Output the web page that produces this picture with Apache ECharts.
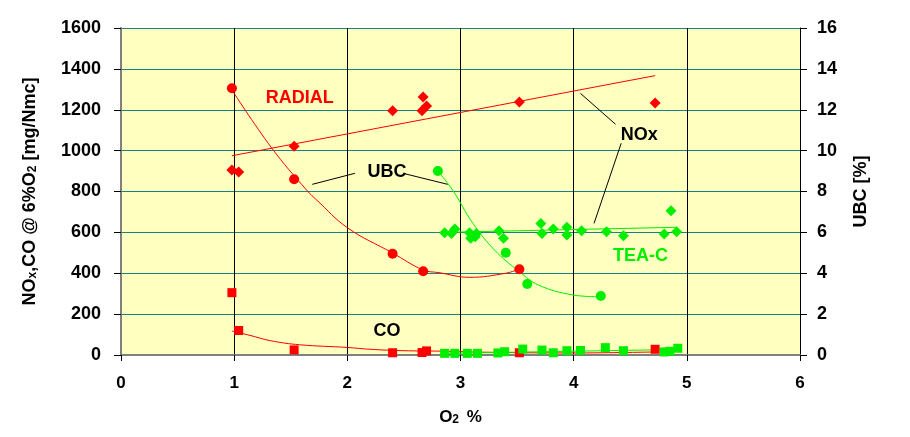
<!DOCTYPE html>
<html>
<head>
<meta charset="utf-8">
<script src="https://cdn.jsdelivr.net/npm/echarts@6/dist/echarts.min.js"></script>
<style>html,body{margin:0;padding:0;background:#fff}#c{width:910px;height:437px}</style>
</head>
<body>
<div id="c"></div>
<script>
// ---- data (x = O2 %) ----
const xTicks = [0, 1, 2, 3, 4, 5, 6];
const leftTicks = [0, 200, 400, 600, 800, 1000, 1200, 1400, 1600];
const rightTicks = [0, 2, 4, 6, 8, 10, 12, 14, 16];

// RADIAL burner
const radialNOx = [[0.98,905],[1.04,895],[1.53,1022],[2.40,1195],[2.66,1195],[2.67,1262],[2.70,1218],[3.52,1238],[4.72,1233]];
const radialNOxTrend = [[0.98,975],[4.72,1367]];
const radialUBC = [[0.98,13.05],[1.53,8.6],[2.40,4.95],[2.67,4.1],[3.52,4.2]];
const radialUBCTrend = [[0.98,12.97],[1.33,10.14],[1.64,8.07],[1.73,7.58],[2.00,6.23],[2.40,4.99],[2.67,4.16],[2.81,4.03],[3.08,3.80],[3.40,4.0],[3.52,4.21]];
const radialCO = [[0.98,305],[1.04,120],[1.53,25],[2.40,11],[2.66,12],[2.70,20],[3.52,11],[4.72,28]];
const radialCOTrend = [[0.98,117],[1.14,96],[1.32,70],[1.58,50],[2.00,37],[2.20,28],[2.50,21],[2.80,19],[3.30,13],[4.00,10],[4.72,15]];

// TEA-C burner
const teaNOx = [[2.86,598],[2.92,595],[2.95,616],[3.08,598],[3.09,571],[3.13,579],[3.14,595],[3.34,608],[3.38,571],[3.71,644],[3.72,595],[3.82,616],[3.94,625],[3.94,587],[4.07,608],[4.29,603],[4.44,584],[4.80,592],[4.86,706],[4.91,603]];
const teaNOxTrend = [[2.86,600],[4.91,625]];
const teaUBC = [[2.80,9.0],[3.40,5.0],[3.59,3.47],[4.24,2.89]];
const teaUBCTrend = [[2.80,9.0],[2.93,8.07],[3.11,6.44],[3.30,5.14],[3.52,4.08],[3.69,3.42],[3.99,2.94],[4.22,2.85]];
const teaCO = [[2.86,8],[2.95,8],[3.06,8],[3.15,8],[3.33,10],[3.39,16],[3.55,29],[3.72,24],[3.82,11],[3.94,21],[4.06,22],[4.28,36],[4.44,21],[4.80,15],[4.85,18],[4.92,33]];
const teaCOTrend = [[2.86,8],[4.92,27]];

// annotations (text, position in O2 % / left-axis units)
const blackNotes = [{name:'UBC', value:[2.35,897]}, {name:'NOx', value:[4.58,1076]}, {name:'CO', value:[2.35,117]}];
const redNotes = [{name:'RADIAL', value:[1.58,1257]}];
const greenNotes = [{name:'TEA-C', value:[4.59,486]}];
const leaders = [
  [[1.69,835],[2.067,889]],
  [[2.507,887],[2.887,835]],
  [[4.06,1280],[4.37,1129]],
  [[4.42,1036],[4.18,644]]
];

const RED = '#ff0000', GREEN = '#00ee00';
const FONT = "'Liberation Sans', Arial, sans-serif";

const series = [];
function trend(data, color, yi, smooth) {
  series.push({type:'line', data, yAxisIndex: yi, smooth: smooth ? 0.4 : false, showSymbol:false, symbol:'none',
    lineStyle:{color, width:1}, silent:true, z:3});
}
function pts(data, color, symbol, size, yi) {
  series.push({type:'scatter', data, yAxisIndex: yi, symbol, symbolSize:size, itemStyle:{color, opacity:1}, z:4});
}
function notes(data, color) {
  series.push({type:'scatter', data, yAxisIndex:0, symbolSize:0, z:6, itemStyle:{color, opacity:1},
    label:{show:true, position:'inside', formatter:p=>p.name, color, opacity:1, textBorderWidth:0, textBorderColor:'transparent',
      fontFamily:FONT, fontWeight:'bold', fontSize:18}});
}
trend(radialNOxTrend, RED, 0, false);
trend(radialUBCTrend, RED, 1, true);
trend(radialCOTrend, RED, 0, true);
trend(teaNOxTrend, GREEN, 0, false);
trend(teaUBCTrend, GREEN, 1, true);
trend(teaCOTrend, GREEN, 0, false);
pts(radialNOx, RED, 'diamond', 11, 0);
pts(radialUBC, RED, 'circle', 10, 1);
pts(radialCO, RED, 'rect', 9, 0);
pts(teaNOx, GREEN, 'diamond', 11, 0);
pts(teaUBC, GREEN, 'circle', 10, 1);
pts(teaCO, GREEN, 'rect', 9, 0);
leaders.forEach(l => series.push({type:'line', data:l, yAxisIndex:0, symbol:'none', lineStyle:{color:'#000', width:1}, z:5, silent:true}));
notes(blackNotes, '#000');
notes(redNotes, RED);
notes(greenNotes, GREEN);

const chart = echarts.init(document.getElementById('c'), null, {renderer:'canvas'});
chart.setOption({
  animation:false,
  backgroundColor:'#ffffff',
  textStyle:{fontFamily:FONT},
  grid:{left:121, right:110, top:28, bottom:82, show:true, backgroundColor:'#ffffc0', borderWidth:0},
  xAxis:{type:'value', min:xTicks[0], max:xTicks[xTicks.length-1], interval:1,
    axisLine:{show:true, onZero:false, lineStyle:{color:'#808080', width:2}},
    axisTick:{show:true, length:6, lineStyle:{color:'#000'}},
    splitLine:{show:true, lineStyle:{color:'#000', width:1}},
    axisLabel:{color:'#000', fontWeight:'bold', fontSize:17, fontFamily:FONT, margin:20, formatter:v=>String(v)},
    name:'{a|O}{b|2}{a| %}', nameLocation:'middle', nameGap:54,
    nameTextStyle:{rich:{a:{fontSize:17, fontWeight:'bold', color:'#000', fontFamily:FONT}, b:{fontSize:12, fontWeight:'bold', color:'#000', verticalAlign:'bottom', fontFamily:FONT, padding:[0,3,0,0]}}}
  },
  yAxis:[
    {type:'value', min:leftTicks[0], max:leftTicks[leftTicks.length-1], interval:200, position:'left',
      axisLine:{show:true, lineStyle:{color:'#808080', width:2}},
      axisTick:{show:true, length:7, lineStyle:{color:'#000'}},
      splitLine:{show:true, lineStyle:{color:'#1a8080', width:1}},
      axisLabel:{color:'#000', fontWeight:'bold', fontSize:18, fontFamily:FONT, margin:20, formatter:v=>String(v)},
      name:'{a|NO}{b|x}{a|,CO @ 6%O}{b|2}{a| [mg/Nmc]}', nameLocation:'middle', nameGap:82, nameRotate:90,
      nameTextStyle:{rich:{a:{fontSize:18, fontWeight:'bold', color:'#000', fontFamily:FONT}, b:{fontSize:12, fontWeight:'bold', color:'#000', verticalAlign:'bottom', fontFamily:FONT}}}
    },
    {type:'value', min:rightTicks[0], max:rightTicks[rightTicks.length-1], interval:2, position:'right',
      axisLine:{show:true, lineStyle:{color:'#000', width:1}},
      axisTick:{show:true, length:7, lineStyle:{color:'#000'}},
      splitLine:{show:false},
      axisLabel:{color:'#000', fontWeight:'bold', fontSize:18, fontFamily:FONT, margin:17, formatter:v=>String(v)},
      name:'UBC [%]', nameLocation:'middle', nameGap:52, nameRotate:90,
      nameTextStyle:{fontSize:18, fontWeight:'bold', color:'#000', fontFamily:FONT}
    }
  ],
  series
});
</script>
</body>
</html>
